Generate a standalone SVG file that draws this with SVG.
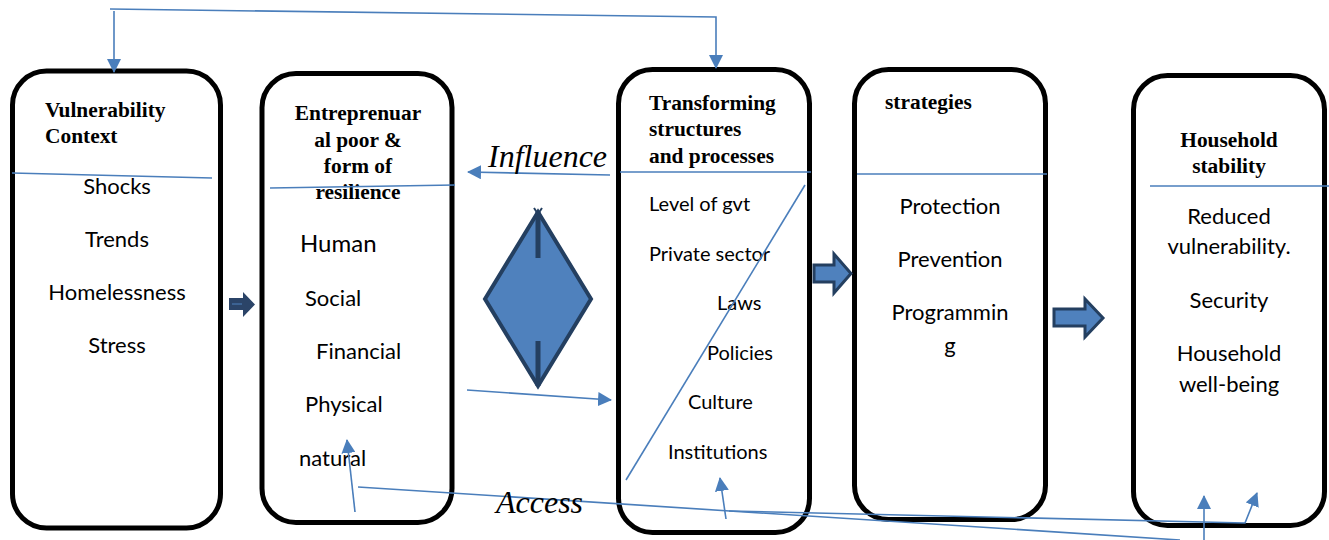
<svg xmlns="http://www.w3.org/2000/svg" width="1329" height="540" viewBox="0 0 1329 540">
  <style>
    .box { fill: #fff; stroke: #000; stroke-width: 5; }
    .div { stroke: #4a7ebb; stroke-width: 1.6; fill: none; }
    .con { stroke: #4a7ebb; stroke-width: 1.6; fill: none; }
    .head { font-family: "Liberation Serif", "Times New Roman", serif; font-weight: bold; font-size: 21.4px; fill: #000; }
    .body { font-family: Lato, "Open Sans", sans-serif; font-size: 22px; fill: #000; }
    .small { font-size: 20px; }
    .lbl { font-family: "Liberation Serif", "Times New Roman", serif; font-style: italic; font-size: 32px; fill: #000; }
    .blk { fill: #4f81bd; stroke: #243f60; stroke-width: 3; }
  </style>
  <defs>
    <marker id="tip" markerWidth="14" markerHeight="14" viewBox="0 0 14 14" refX="13" refY="7" orient="auto" markerUnits="userSpaceOnUse">
      <path d="M0,0 L14,7 L0,14 Z" fill="#4a7ebb"/>
    </marker>
  </defs>
  <rect width="1329" height="540" fill="#fff"/>

  <g id="vulnerability">
    <rect class="box" x="12.5" y="71" width="208" height="457" rx="34"/>
    <text class="head" x="45" y="117">Vulnerability</text>
    <text class="head" x="45" y="143">Context</text>
    <path class="div" d="M12,173 L212,178"/>
    <g class="body" text-anchor="middle">
      <text x="117" y="194">Shocks</text>
      <text x="117" y="247">Trends</text>
      <text x="117" y="300">Homelessness</text>
      <text x="117" y="353">Stress</text>
    </g>
  </g>

  <g id="entrepreneurs">
    <rect class="box" x="262" y="73.5" width="190" height="449" rx="34"/>
    <g class="head" text-anchor="middle">
      <text x="358" y="120">Entreprenuar</text>
      <text x="358" y="147">al poor &amp;</text>
      <text x="358" y="173">form of</text>
      <text x="358" y="199">resilience</text>
    </g>
    <path class="div" d="M270,188 L455,185"/>
    <g class="body">
      <text x="300" y="252" font-size="24">Human</text>
      <text x="305" y="306">Social</text>
      <text x="316" y="359">Financial</text>
      <text x="305" y="412">Physical</text>
      <text x="299" y="466">natural</text>
    </g>
  </g>

  <g id="interaction">
    <polygon points="538,212 591,299 538,386 485,299" fill="#4f81bd" stroke="#243f60" stroke-width="4" stroke-linejoin="miter"/>
    <path d="M538,212 L538,258 M538,341 L538,386" stroke="#243f60" stroke-width="5"/>
    <path d="M534,208 L538,214 L542,208" stroke="#243f60" stroke-width="2" fill="none"/>
  </g>

  <g id="transforming">
    <rect class="box" x="618.5" y="69.5" width="191" height="463" rx="34"/>
    <text class="head" x="649" y="110">Transforming</text>
    <text class="head" x="649" y="136">structures</text>
    <text class="head" x="649" y="163">and processes</text>
    <path class="div" d="M620,172 L811,172"/>
    <g class="body small">
      <text x="649" y="211">Level of gvt</text>
      <text x="649" y="261">Private sector</text>
      <text x="717" y="310">Laws</text>
      <text x="707" y="360">Policies</text>
      <text x="688" y="409">Culture</text>
      <text x="668" y="459">Institutions</text>
    </g>
    <path class="div" d="M805,185 L626,480"/>
  </g>

  <g id="strategies">
    <rect class="box" x="854.5" y="69.5" width="191" height="450" rx="34"/>
    <text class="head" x="885" y="109">strategies</text>
    <path class="div" d="M857,174 L1047,174"/>
    <g class="body" text-anchor="middle">
      <text x="950" y="214">Protection</text>
      <text x="950" y="267">Prevention</text>
      <text x="950" y="320">Programmin</text>
      <text x="950" y="353">g</text>
    </g>
  </g>

  <g id="household">
    <rect class="box" x="1133.5" y="75.5" width="191" height="450" rx="34"/>
    <g class="head" text-anchor="middle">
      <text x="1229" y="147">Household</text>
      <text x="1229" y="173">stability</text>
    </g>
    <path class="div" d="M1150,186 L1329,186"/>
    <g class="body" text-anchor="middle">
      <text x="1229" y="224">Reduced</text>
      <text x="1229" y="254">vulnerability.</text>
      <text x="1229" y="308">Security</text>
      <text x="1229" y="361">Household</text>
      <text x="1229" y="392">well-being</text>
    </g>
  </g>

  <g id="connectors">
    <!-- feedback loop across the top -->
    <path class="con" d="M110,9 L716,17 L716,68" marker-end="url(#tip)"/>
    <path class="con" d="M114,11 L114,72" marker-end="url(#tip)"/>
    <!-- influence back to assets -->
    <path class="con" d="M610,175 L468,172" marker-end="url(#tip)"/>
    <text class="lbl" x="488" y="167">Influence</text>
    <!-- assets into structures -->
    <path class="con" d="M467,390 L611,400" marker-end="url(#tip)"/>
    <!-- access loop along the bottom -->
    <path class="con" d="M358,487 L1180,540"/>
    <path class="con" d="M729,511 L1245,523 L1257,493" marker-end="url(#tip)"/>
    <path class="con" d="M355,512 L347,440" marker-end="url(#tip)"/>
    <path class="con" d="M726,519 L720,478" marker-end="url(#tip)"/>
    <path class="con" d="M1204,540 L1204,496" marker-end="url(#tip)"/>
    <text class="lbl" x="496" y="513">Access</text>
    <!-- block arrows between stages -->
    <path d="M229,298 L243,298 L243,292 L255,304.5 L243,317 L243,310 L229,310 Z" fill="#2b4468"/>
    <path d="M232,304 L242,304" stroke="#4f81bd" stroke-width="1"/>
    <path class="blk" d="M814,265 L834,265 L834,254 L851,273.5 L834,293 L834,282 L814,282 Z"/>
    <path class="blk" d="M1054,309 L1085,309 L1085,299 L1103,318 L1085,337 L1085,326 L1054,326 Z"/>
  </g>
</svg>
